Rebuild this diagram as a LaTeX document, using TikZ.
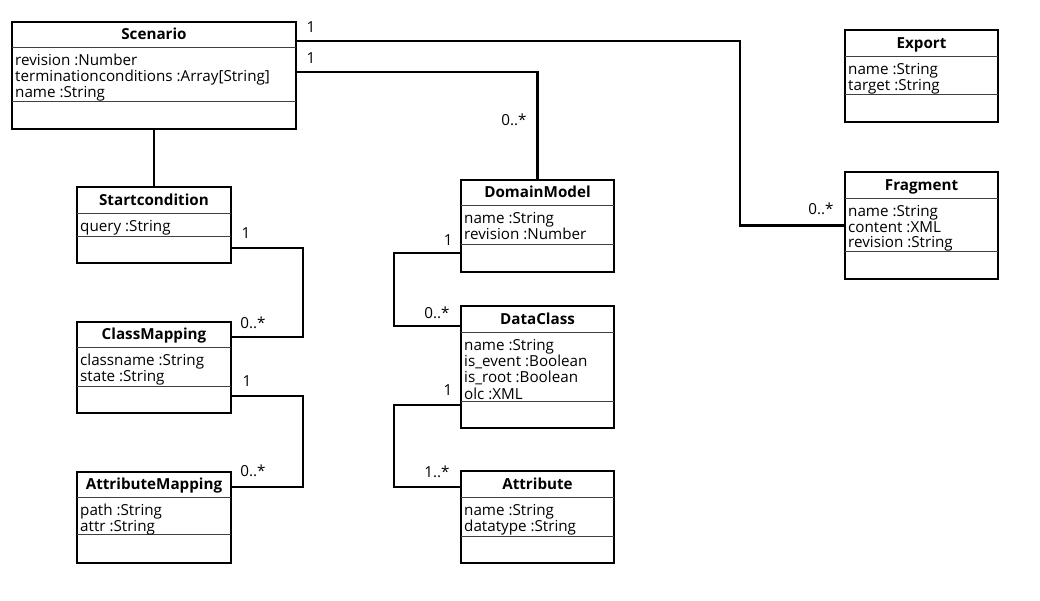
\documentclass[tikz,border=0pt]{standalone}
\usepackage{fontspec}
\setmainfont{Open Sans}
\usetikzlibrary{fit}

\tikzset{
  classbox/.style={draw=black, line width=1.3pt, inner sep=0pt, fill=white},
  sepline/.style={draw=black!75, line width=1pt},
  classtitle/.style={font=\fontsize{15.2}{15.5}\selectfont\bfseries, text height=10.8pt, text depth=0pt, inner sep=0pt},
  attrs/.style={font=\fontsize{15.2}{15.5}\selectfont, inner sep=0pt, anchor=base west},
  mult/.style={font=\fontsize{15.2}{15.5}\selectfont, text height=10.8pt, text depth=0pt, inner sep=0pt},
  assoc/.style={draw=black, line width=2.2pt},
}

% class box: name, x1, y1, x2, header line y, separator y, y2, title, attributes
\newcommand\umlclass[9]{%
  \node[classbox, fit={(#2,#3)(#4,#7)}] (#1) {};
  \draw[sepline] (#2,#5) -- (#4,#5);
  \draw[sepline] (#2,#6) -- (#4,#6);
  \node[classtitle] (#1-title) at ({(#2+#4)/2},{(#3+#5)/2}) {#8};
  \node[attrs] (#1-attrs) at ({#2+3},{#5+18.5})
    {\begin{tabular}[t]{@{}l@{}}#9\end{tabular}};
}

\begin{document}
\begin{tikzpicture}[x=1pt,y=-1pt]
\useasboundingbox (0,0) rectangle (1040,600);

\umlclass{scen}{12}{22}{296}{47}{101}{129}{Scenario}
  {revision :Number\\terminationconditions :Array[String]\\name :String}
\umlclass{exp}{845}{30}{998}{56}{94}{122}{Export}
  {name :String\\target :String}
\umlclass{frag}{845}{172}{998}{198}{251}{279}{Fragment}
  {name :String\\content :XML\\revision :String}
\umlclass{start}{77}{187}{231}{213}{236}{263}{Startcondition}
  {query :String}
\umlclass{cm}{77}{322}{231}{347}{386}{413}{ClassMapping}
  {classname :String\\state :String}
\umlclass{am}{77}{472}{231}{497}{534}{563}{AttributeMapping}
  {path :String\\attr :String}
\umlclass{dm}{461}{180}{614}{205}{244}{272}{DomainModel}
  {name :String\\revision :Number}
\umlclass{dc}{461}{306}{614}{332}{401}{428}{DataClass}
  {name :String\\is\_event :Boolean\\is\_root :Boolean\\olc :XML}
\umlclass{attr}{461}{471}{614}{497}{536}{563}{Attribute}
  {name :String\\datatype :String}

% bend points of the associations
\coordinate (bendfrag) at (740,100);
\coordinate (bendstart) at (303,300);
\coordinate (bendcm) at (303,450);
\coordinate (benddm) at (394,290);
\coordinate (benddc) at (394,450);

% associations
\draw[assoc] (scen) -- (start);
\draw[assoc] ([yshift=-20pt]scen.north east) -| (bendfrag) |- (frag.west);
\draw[assoc] ([yshift=-50.7pt]scen.north east) -| (dm.north);
\draw[assoc] ([yshift=-62pt]start.north east) -| (bendstart) |- ([yshift=-16pt]cm.north east);
\draw[assoc] ([yshift=-75pt]cm.north east) -| (bendcm) |- ([yshift=-15.5pt]am.north east);
\draw[assoc] ([yshift=-74pt]dm.north west) -| (benddm) |- ([yshift=-21pt]dc.north west);
\draw[assoc] ([yshift=-100pt]dc.north west) -| (benddc) |- ([yshift=-17pt]attr.north west);

% multiplicities
\node[mult] (m1) at (311,26.7) {1};
\node[mult] (m2) at (311,58.3) {1};
\node[mult] (m3) at (514,120) {0..*};
\node[mult] (m4) at (821,209) {0..*};
\node[mult] (m5) at (246,233) {1};
\node[mult] (m6) at (253,323) {0..*};
\node[mult] (m7) at (247,381) {1};
\node[mult] (m8) at (253,471) {0..*};
\node[mult] (m9) at (448.3,240) {1};
\node[mult] (m10) at (437,313) {0..*};
\node[mult] (m11) at (448,390) {1};
\node[mult] (m12) at (437,472) {1..*};
\end{tikzpicture}
\end{document}
